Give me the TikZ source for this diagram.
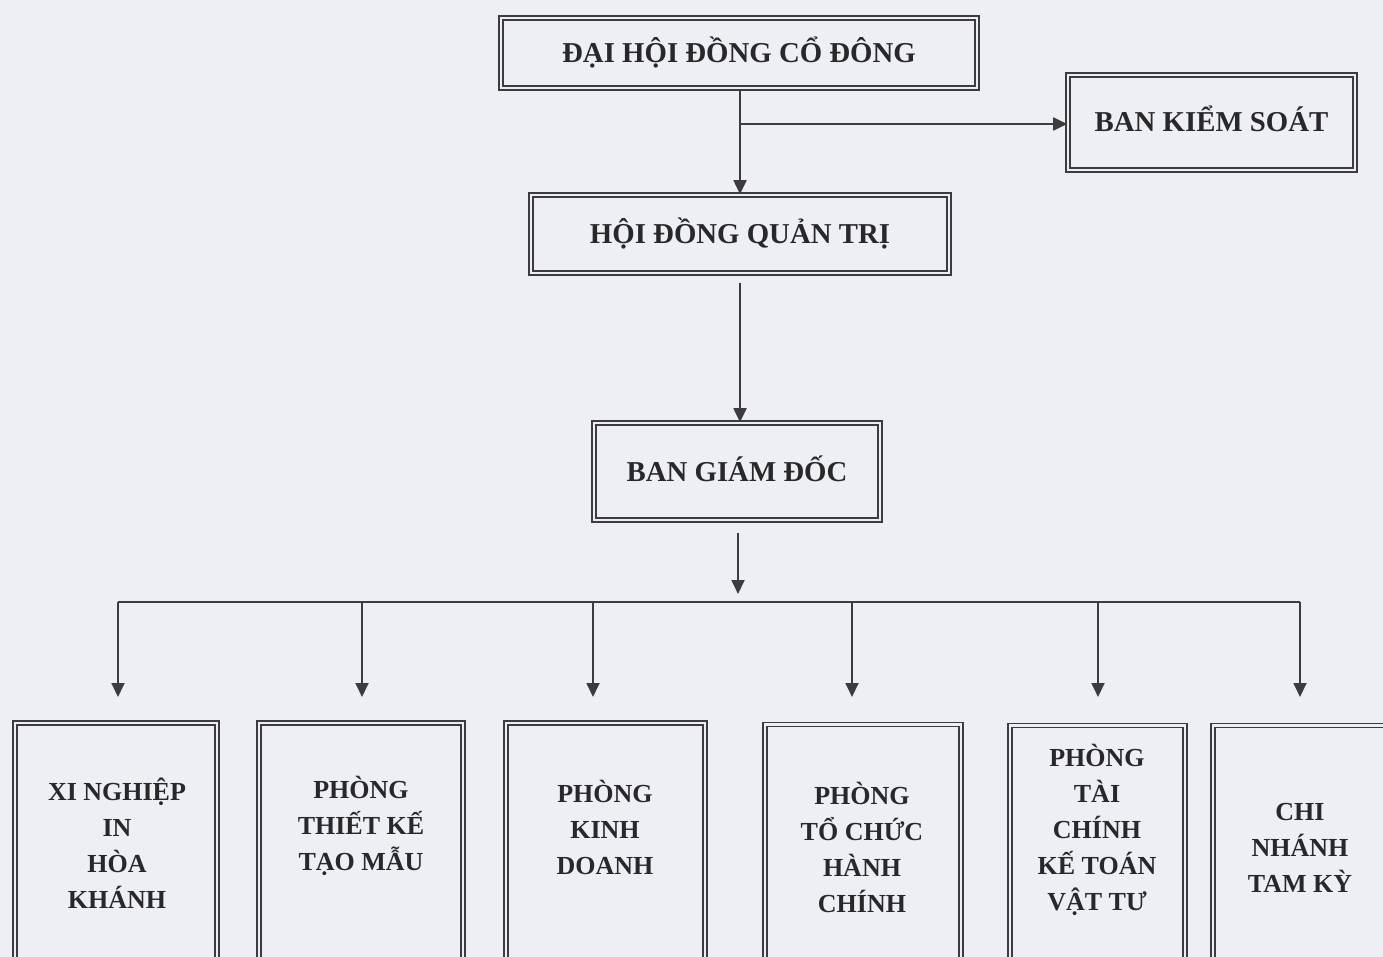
\documentclass[tikz,border=0pt]{standalone}
\usepackage{fontspec}
\setmainfont{Liberation Serif}
\usetikzlibrary{arrows.meta,calc}
\definecolor{bg}{RGB}{237,239,244}
\definecolor{linec}{RGB}{60,60,62}
\definecolor{txtc}{RGB}{40,40,42}
\begin{document}
\begin{tikzpicture}[x=1pt,y=-1pt,
  dbox/.style={draw=linec, double=bg, double distance=2.4pt, line width=1.6pt, inner sep=0pt},
  ttl/.style={text=txtc, font=\bfseries\fontsize{28.8}{36}\selectfont, text height=19pt, text depth=0pt},
  lbl/.style={text=txtc, font=\bfseries\fontsize{26}{36}\selectfont, align=center, inner sep=0pt},
  arr/.style={draw=linec, line width=1.8pt, -{Triangle[width=13pt,length=14pt]}},
  ln/.style={draw=linec, line width=1.8pt}]
\clip (0,0) rectangle (1383,957);
\fill[bg] (0,0) rectangle (1383,957);
% top boxes
\node[dbox,ttl,minimum width=476pt,minimum height=70pt] (dh) at (739,53) {ĐẠI HỘI ĐỒNG CỔ ĐÔNG};
\node[dbox,ttl,minimum width=287pt,minimum height=95pt] (bks) at (1211.5,122.5) {BAN KIỂM SOÁT};
\node[dbox,ttl,minimum width=418pt,minimum height=78pt] (hdqt) at (740,234) {HỘI ĐỒNG QUẢN TRỊ};
\node[dbox,ttl,minimum width=286pt,minimum height=97pt] (bgd) at (737,471.5) {BAN GIÁM ĐỐC};
% bottom boxes
\node[dbox,minimum width=202pt,minimum height=239pt] (b1) at (116,842.5) {};
\node[dbox,minimum width=204pt,minimum height=239pt] (b2) at (361,842.5) {};
\node[dbox,minimum width=199pt,minimum height=239pt] (b3) at (605.5,842.5) {};
\node[dbox,minimum width=196pt,minimum height=239pt] (b4) at (863,844) {};
\node[dbox,minimum width=175pt,minimum height=239pt] (b5) at (1097.5,845) {};
\node[dbox,minimum width=176pt,minimum height=239pt] (b6) at (1301,845) {};
\node[lbl] (t1) at (117,843) {XI NGHIỆP\\IN\\HÒA\\KHÁNH};
\node[lbl] (t2) at (361,826) {PHÒNG\\THIẾT KẾ\\TẠO MẪU};
\node[lbl] (t3) at (605,827) {PHÒNG\\KINH\\DOANH};
\node[lbl] (t4) at (862,847) {PHÒNG\\TỔ CHỨC\\HÀNH\\CHÍNH};
\node[lbl] (t5) at (1097,830) {PHÒNG\\TÀI\\CHÍNH\\KẾ TOÁN\\VẬT TƯ};
\node[lbl] (t6) at (1300,848) {CHI\\NHÁNH\\TAM KỲ};
% connectors top
\coordinate (j1) at (740,124);
\draw[arr] (dh.south -| hdqt.north) -- (hdqt.north);
\draw[arr] (j1) -- (j1 -| bks.west);
\coordinate (hs) at (740,283);
\draw[arr] (hs) -- (hs |- bgd.north);
\coordinate (bs) at (738,533);
\coordinate (be) at (738,594);
\draw[arr] (bs) -- (be);
% bus
\coordinate (p1) at (118,602);
\coordinate (p2) at (362,602);
\coordinate (p3) at (593,602);
\coordinate (p4) at (852,602);
\coordinate (p5) at (1098,602);
\coordinate (p6) at (1300,602);
\draw[ln] (p1) -- (p6);
\foreach \i in {1,...,6}{
  \draw[arr] (p\i) -- ($(p\i)+(0,95)$);
}
\end{tikzpicture}
\end{document}
